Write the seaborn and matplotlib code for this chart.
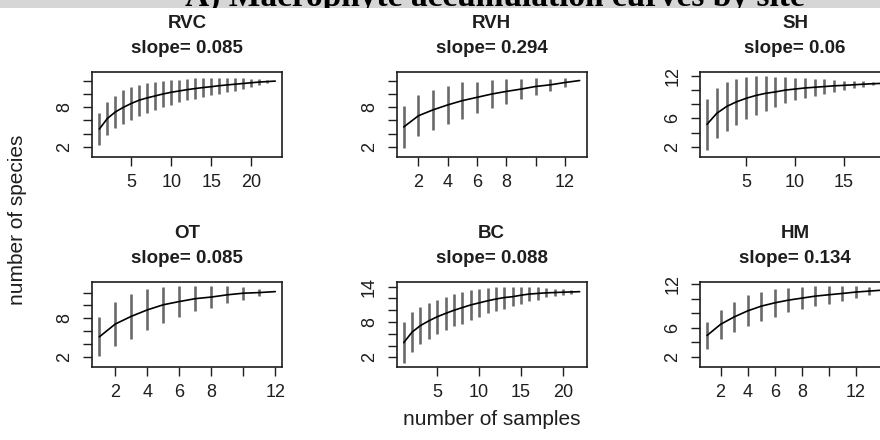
import numpy as np
import pandas as pd
import matplotlib
matplotlib.use("Agg")
import matplotlib.pyplot as plt
from matplotlib.patches import Rectangle
import seaborn as sns

# Sites and the slope reported for the end of each accumulation curve
sites = ["RVC", "RVH", "SH", "OT", "BC", "HM"]
slopes = ["0.085", "0.294", "0.06", "0.085", "0.088", "0.134"]

# Mean number of species for 1..n pooled samples, with its standard deviation
rvc_mean = [4.7, 6.3, 7.3, 8.0, 8.6, 9.1, 9.45, 9.75, 10.05, 10.3, 10.5, 10.7,
            10.87, 11.02, 11.15, 11.3, 11.42, 11.53, 11.64, 11.75, 11.85, 11.93, 12.0]
rvc_sd = [1.21, 1.24, 1.25, 1.30, 1.27, 1.17, 1.12, 1.07, 1.02, 0.96, 0.87, 0.82,
          0.78, 0.70, 0.64, 0.61, 0.52, 0.49, 0.40, 0.32, 0.23, 0.13, 0.0]

rvh_mean = [5.0, 6.7, 7.6, 8.35, 9.0, 9.5, 10.0, 10.4, 10.75, 11.15, 11.4, 11.75, 12.05]
rvh_sd = [1.62, 1.55, 1.52, 1.45, 1.38, 1.18, 1.08, 0.92, 0.77, 0.64, 0.46, 0.32, 0.0]

sh_mean = [5.15, 6.7, 7.65, 8.3, 8.8, 9.2, 9.5, 9.7, 9.95, 10.1, 10.25, 10.35,
           10.45, 10.55, 10.62, 10.7, 10.78, 10.85, 10.9]
sh_sd = [1.77, 1.77, 1.71, 1.62, 1.48, 1.35, 1.22, 1.08, 0.92, 0.80, 0.70, 0.61,
         0.50, 0.41, 0.33, 0.26, 0.20, 0.12, 0.0]

ot_mean = [5.1, 7.1, 8.3, 9.3, 10.1, 10.6, 11.05, 11.3, 11.65, 11.9, 12.0, 12.15]
ot_sd = [1.52, 1.75, 1.73, 1.59, 1.41, 1.20, 0.97, 0.83, 0.65, 0.50, 0.30, 0.0]

bc_mean = [4.5, 6.3, 7.4, 8.2, 8.9, 9.46, 10.0, 10.45, 10.9, 11.25, 11.6, 11.9,
           12.15, 12.3, 12.55, 12.75, 12.85, 12.95, 13.0, 13.06, 13.1, 13.15]
bc_sd = [1.72, 1.72, 1.57, 1.55, 1.46, 1.40, 1.37, 1.36, 1.26, 1.19, 1.07, 1.00,
         0.93, 0.83, 0.72, 0.60, 0.52, 0.39, 0.30, 0.23, 0.17, 0.0]

hm_mean = [4.93, 6.47, 7.49, 8.33, 8.98, 9.44, 9.81, 10.09, 10.37, 10.56, 10.74,
           10.93, 11.07, 11.2]
hm_sd = [0.93, 0.99, 1.01, 1.07, 1.01, 0.95, 0.85, 0.78, 0.70, 0.63, 0.54, 0.43,
         0.26, 0.0]

means = {"RVC": rvc_mean, "RVH": rvh_mean, "SH": sh_mean,
         "OT": ot_mean, "BC": bc_mean, "HM": hm_mean}
sds = {"RVC": rvc_sd, "RVH": rvh_sd, "SH": sh_sd,
       "OT": ot_sd, "BC": bc_sd, "HM": hm_sd}

# Axis ticks; an empty string leaves that tick unlabelled
xticks = {"RVC": [5, 10, 15, 20], "RVH": [2, 4, 6, 8, 10, 12], "SH": [5, 10, 15],
          "OT": [2, 4, 6, 8, 10, 12], "BC": [5, 10, 15, 20], "HM": [2, 4, 6, 8, 10, 12, 14]}
xtick_labels = {"RVC": ["5", "10", "15", "20"], "RVH": ["2", "4", "6", "8", "", "12"],
                "SH": ["5", "10", "15"], "OT": ["2", "4", "6", "8", "", "12"],
                "BC": ["5", "10", "15", "20"], "HM": ["2", "4", "6", "8", "", "12", ""]}
yticks = {"RVC": [2, 4, 6, 8, 10, 12], "RVH": [2, 4, 6, 8, 10, 12], "SH": [2, 4, 6, 8, 10, 12],
          "OT": [2, 4, 6, 8, 10, 12], "BC": [2, 4, 6, 8, 10, 12, 14], "HM": [2, 4, 6, 8, 10, 12]}
ytick_labels = {"RVC": ["2", "", "", "8", "", ""], "RVH": ["2", "", "", "8", "", ""],
                "SH": ["2", "", "6", "", "", "12"], "OT": ["2", "", "", "8", "", ""],
                "BC": ["2", "", "", "8", "", "", "14"], "HM": ["2", "", "6", "", "", "12"]}
ylims = {"RVC": (0.47, 13.34), "RVH": (0.47, 13.3), "SH": (0.59, 12.45),
         "OT": (0.43, 13.6), "BC": (0.4, 14.74), "HM": (0.6, 12.28)}

sns.set_theme(style="white")
plt.rcParams["font.family"] = ["Liberation Sans", "DejaVu Sans"]

W, H = 880, 440
fig = plt.figure(figsize=(W / 100, H / 100), dpi=100)
fig.patch.set_facecolor("white")

# panel geometry in pixels
col_left = [92.3, 396.7, 700.0]
row_top = [72.3, 282.3]
aw, ah = 190.0, 84.5
ink = "#1e1e1e"

for i, site in enumerate(sites):
    r, c = divmod(i, 3)
    ax = fig.add_axes([col_left[c] / W, 1 - (row_top[r] + ah) / H, aw / W, ah / H])
    n = len(means[site])
    df = pd.DataFrame({"samples": np.arange(1, n + 1),
                       "species": means[site],
                       "sd": sds[site]})
    # +/- 2 sd bars, then the mean curve on top
    ax.vlines(df["samples"], df["species"] - 2 * df["sd"], df["species"] + 2 * df["sd"],
              color="#6a6a6a", lw=1.9, zorder=2)
    sns.lineplot(data=df, x="samples", y="species", ax=ax, color="black",
                 lw=1.2, zorder=3)
    ax.set_xlabel("")
    ax.set_ylabel("")
    pad = 0.04 * (n - 1)
    ax.set_xlim(1 - pad, n + pad)
    ax.set_ylim(*ylims[site])
    ax.set_xticks(xticks[site], xtick_labels[site])
    ax.set_yticks(yticks[site], ytick_labels[site])
    ax.tick_params(axis="both", direction="out", length=6.5, width=1.0,
                   color=ink, labelcolor=ink, labelsize=13,
                   bottom=True, left=True)
    ax.tick_params(axis="x", pad=6)
    ax.tick_params(axis="y", pad=7, labelrotation=90)
    plt.setp(ax.get_yticklabels(), va="center")
    for sp in ax.spines.values():
        sp.set_visible(True)
        sp.set_color(ink)
        sp.set_linewidth(1.2)
    ax.set_title(f"{site}\nslope= {slopes[i]}", fontsize=13.5, fontweight="bold",
                 color=ink, pad=13.7, linespacing=1.6)

fig.text(17.5 / W, 1 - 219.5 / H, "number of species", rotation=90,
         ha="center", va="center", fontsize=15, color=ink)
fig.text(492 / W, 1 - 419 / H, "number of samples",
         ha="center", va="center", fontsize=15, color=ink)

# heading strip across the top
band = Rectangle((0, 1 - 8 / H), 1, 8 / H, transform=fig.transFigure,
                 facecolor="#d6d6d6", edgecolor="none", zorder=0)
fig.patches.append(band)
head = fig.text(495 / W, 1 - 6 / H, "A) Macrophyte accumulation curves by site",
                family="Liberation Serif", fontweight="bold", fontsize=24,
                ha="center", va="baseline", color="black")
head.set_clip_path(band)

fig.savefig("out.png", dpi=100)
